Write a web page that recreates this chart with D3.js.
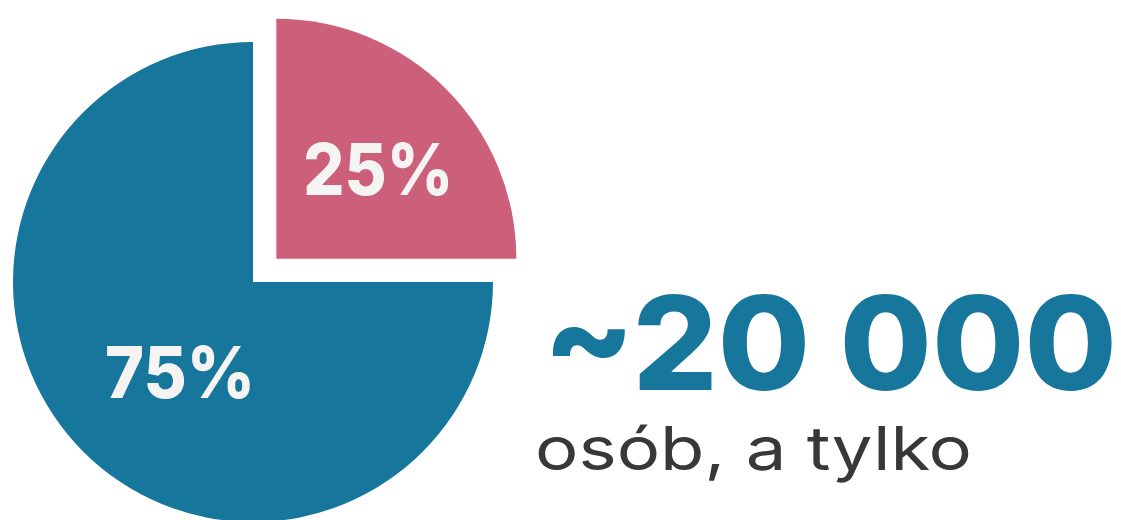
<!DOCTYPE html>
<html>
<head>
<meta charset="utf-8">
<script src="https://cdn.jsdelivr.net/npm/d3@7"></script>
<style>
    body { margin: 0; background: #fff; }
    svg { display: block; }
</style>
</head>
<body>
<div id="chart"></div>
<script>
// slice data (top-right slice first, drawn clockwise from 12 o'clock)
const categories = ['part', 'rest'];
const values = [25, 75];
const labels = ['25%', '75%'];
const colors = ['#cc5f79', '#17769b'];

const headline = '~20 000';
const subline = 'osób, a tylko';

const width = 1121, height = 520;
const radius = 240;
const center = {x: 253, y: 282};
const explode = 33; // pull-out distance of the small slice

const svg = d3.select('#chart')
    .append('svg')
    .attr('width', width)
    .attr('height', height);

const pie = d3.pie()
    .sort(null)
    .value(d => d.value);

const arc = d3.arc()
    .innerRadius(0)
    .outerRadius(radius);

const labelArc = d3.arc()
    .innerRadius(radius * 0.53)
    .outerRadius(radius * 0.53);

const data = categories.map((c, i) => ({key: c, value: values[i], label: labels[i], color: colors[i]}));
const arcs = pie(data);

const g = svg.append('g')
    .attr('transform', `translate(${center.x},${center.y})`);

// only the first slice is pulled out
const offset = (d, i) => {
    if (i !== 0) return [0, 0];
    const a = (d.startAngle + d.endAngle) / 2;
    return [explode * Math.sin(a), -explode * Math.cos(a)];
};

const slices = g.selectAll('.slice')
    .data(arcs)
    .join('g')
    .attr('class', 'slice')
    .attr('transform', (d, i) => `translate(${offset(d, i)})`);

slices.append('path')
    .attr('d', arc)
    .attr('fill', d => d.data.color);

// labels sit near the centroid, nudged a little toward the middle
slices.append('text')
    .attr('transform', (d, i) => {
        const [cx, cy] = labelArc.centroid(d);
        const dx = i === 0 ? 12 : 17;
        return `translate(${cx + dx},${cy})`;
    })
    .attr('text-anchor', 'middle')
    .attr('dy', '0.36em')
    .attr('font-family', 'Inter, "Open Sans", sans-serif')
    .attr('font-weight', 800)
    .attr('font-size', 72)
    .attr('fill', '#f6f4f2')
    .attr('textLength', 150)
    .attr('lengthAdjust', 'spacingAndGlyphs')
    .text(d => d.data.label);

// headline number and caption
svg.append('text')
    .attr('x', 543)
    .attr('y', 390)
    .attr('font-family', 'Inter, "Open Sans", sans-serif')
    .attr('font-weight', 800)
    .attr('font-size', 130)
    .attr('fill', '#17769b')
    .attr('textLength', 574)
    .attr('lengthAdjust', 'spacingAndGlyphs')
    .text(headline);

svg.append('text')
    .attr('x', 535)
    .attr('y', 470)
    .attr('font-family', 'Inter, "Open Sans", sans-serif')
    .attr('font-weight', 400)
    .attr('font-size', 60)
    .attr('fill', '#383838')
    .attr('textLength', 437)
    .attr('lengthAdjust', 'spacingAndGlyphs')
    .text(subline);
</script>
</body>
</html>
